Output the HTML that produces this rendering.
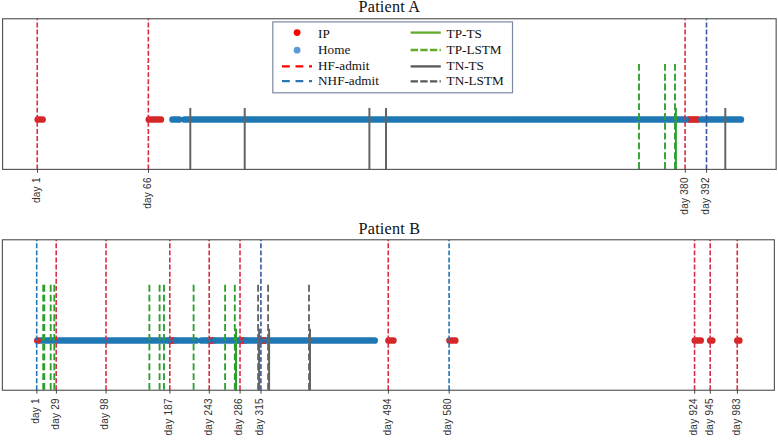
<!DOCTYPE html>
<html><head><meta charset="utf-8"><title>Patient timelines</title>
<style>
html,body{margin:0;padding:0;background:#fff;}
svg{display:block;}
.ti{font-family:"Liberation Serif",serif;font-size:16.2px;letter-spacing:0.22px;fill:#111;}
.lg{font-family:"Liberation Serif",serif;font-size:13.2px;fill:#111;}
.tk{font-family:"Liberation Sans",sans-serif;font-size:10px;letter-spacing:0.25px;fill:#303030;}
</style></head><body>
<svg width="778" height="440" viewBox="0 0 778 440">
<rect width="778" height="440" fill="#fff"/>
<text x="389.4" y="11.9" text-anchor="middle" class="ti">Patient A</text>
<line x1="37.75" x2="42.55" y1="119.5" y2="119.5" stroke="#d62728" stroke-width="6.7" stroke-linecap="round"/>
<line x1="148.85" x2="160.85" y1="119.5" y2="119.5" stroke="#d62728" stroke-width="6.7" stroke-linecap="round"/>
<rect x="687.4" y="116.15" width="12" height="6.7" fill="#d62728"/>
<line x1="172.55" x2="179.05" y1="119.5" y2="119.5" stroke="#1f77b4" stroke-width="6.7" stroke-linecap="round"/>
<line x1="184.55" x2="685.55" y1="119.5" y2="119.5" stroke="#1f77b4" stroke-width="6.7" stroke-linecap="round"/>
<line x1="701.55" x2="740.85" y1="119.5" y2="119.5" stroke="#1f77b4" stroke-width="6.7" stroke-linecap="round"/>
<line x1="37.25" x2="37.25" y1="169.4" y2="18.75" stroke="#dc2c42" stroke-width="1.6" stroke-dasharray="4.95 2.15"/>
<line x1="148.35" x2="148.35" y1="169.4" y2="18.75" stroke="#dc2c42" stroke-width="1.6" stroke-dasharray="4.95 2.15"/>
<line x1="685.1" x2="685.1" y1="169.4" y2="18.75" stroke="#dc2c42" stroke-width="1.6" stroke-dasharray="4.95 2.15"/>
<line x1="706.5" x2="706.5" y1="169.4" y2="18.75" stroke="#3a589f" stroke-width="1.6" stroke-dasharray="4.95 2.15"/>
<line x1="639" x2="639" y1="64.00" y2="169.4" stroke="#2ca02c" stroke-width="1.85" stroke-dasharray="6.85 2.96"/>
<line x1="665" x2="665" y1="64.00" y2="169.4" stroke="#2ca02c" stroke-width="1.85" stroke-dasharray="6.85 2.96"/>
<line x1="675" x2="675" y1="64.00" y2="169.4" stroke="#2ca02c" stroke-width="1.85" stroke-dasharray="6.85 2.96"/>
<line x1="675.9" x2="675.9" y1="169.4" y2="107.90" stroke="#2ca02c" stroke-width="2"/>
<line x1="190.3" x2="190.3" y1="169.4" y2="107.90" stroke="#646464" stroke-width="2"/>
<line x1="244.7" x2="244.7" y1="169.4" y2="107.90" stroke="#646464" stroke-width="2"/>
<line x1="369.4" x2="369.4" y1="169.4" y2="107.90" stroke="#646464" stroke-width="2"/>
<line x1="386" x2="386" y1="169.4" y2="107.90" stroke="#646464" stroke-width="2"/>
<line x1="725.3" x2="725.3" y1="169.4" y2="107.90" stroke="#646464" stroke-width="2"/>
<rect x="2.57" y="18.75" width="773.58" height="150.65" fill="none" stroke="#555" stroke-width="1.15"/>
<line x1="37.5" x2="37.5" y1="169.4" y2="172.80" stroke="#333" stroke-width="0.9"/>
<text transform="translate(39.70,177.30) rotate(-90)" text-anchor="end" class="tk">day 1</text>
<line x1="148.5" x2="148.5" y1="169.4" y2="172.80" stroke="#333" stroke-width="0.9"/>
<text transform="translate(150.70,177.30) rotate(-90)" text-anchor="end" class="tk">day 66</text>
<line x1="685.3" x2="685.3" y1="169.4" y2="172.80" stroke="#333" stroke-width="0.9"/>
<text transform="translate(687.50,177.30) rotate(-90)" text-anchor="end" class="tk">day 380</text>
<line x1="706.6" x2="706.6" y1="169.4" y2="172.80" stroke="#333" stroke-width="0.9"/>
<text transform="translate(708.80,177.30) rotate(-90)" text-anchor="end" class="tk">day 392</text>
<text x="389.4" y="234" text-anchor="middle" class="ti">Patient B</text>
<line x1="388.55" x2="393.35" y1="340.5" y2="340.5" stroke="#d62728" stroke-width="6.7" stroke-linecap="round"/>
<line x1="449.55" x2="455.25" y1="340.5" y2="340.5" stroke="#d62728" stroke-width="6.7" stroke-linecap="round"/>
<line x1="694.85" x2="700.65" y1="340.5" y2="340.5" stroke="#d62728" stroke-width="6.7" stroke-linecap="round"/>
<line x1="710.25" x2="712.25" y1="340.5" y2="340.5" stroke="#d62728" stroke-width="6.7" stroke-linecap="round"/>
<line x1="737.35" x2="739.30" y1="340.5" y2="340.5" stroke="#d62728" stroke-width="6.7" stroke-linecap="round"/>
<line x1="40.35" x2="196.05" y1="340.5" y2="340.5" stroke="#1f77b4" stroke-width="6.7" stroke-linecap="round"/>
<line x1="37.35" x2="37.55" y1="340.5" y2="340.5" stroke="#d62728" stroke-width="6.7" stroke-linecap="round"/>
<line x1="201.55" x2="374.65" y1="340.5" y2="340.5" stroke="#1f77b4" stroke-width="6.7" stroke-linecap="round"/>
<rect x="169.8" y="337.15" width="4.4" height="6.7" fill="#d62728"/>
<circle cx="168.6" cy="340.5" r="3.0" fill="#1f77b4"/><circle cx="175.4" cy="340.5" r="3.0" fill="#1f77b4"/>
<rect x="209.3" y="337.15" width="4.4" height="6.7" fill="#d62728"/>
<circle cx="208.1" cy="340.5" r="3.0" fill="#1f77b4"/><circle cx="214.9" cy="340.5" r="3.0" fill="#1f77b4"/>
<rect x="240.0" y="337.15" width="4.4" height="6.7" fill="#d62728"/>
<circle cx="238.79999999999998" cy="340.5" r="3.0" fill="#1f77b4"/><circle cx="245.6" cy="340.5" r="3.0" fill="#1f77b4"/>
<rect x="261.6" y="337.15" width="4.4" height="6.7" fill="#d62728"/>
<circle cx="260.40000000000003" cy="340.5" r="3.0" fill="#1f77b4"/><circle cx="267.2" cy="340.5" r="3.0" fill="#1f77b4"/>
<line x1="56.2" x2="56.2" y1="390.25" y2="239.77" stroke="#dc2c42" stroke-width="1.6" stroke-dasharray="4.95 2.15"/>
<line x1="106.0" x2="106.0" y1="390.25" y2="239.77" stroke="#dc2c42" stroke-width="1.6" stroke-dasharray="4.95 2.15"/>
<line x1="169.8" x2="169.8" y1="390.25" y2="239.77" stroke="#dc2c42" stroke-width="1.6" stroke-dasharray="4.95 2.15"/>
<line x1="209.2" x2="209.2" y1="390.25" y2="239.77" stroke="#dc2c42" stroke-width="1.6" stroke-dasharray="4.95 2.15"/>
<line x1="240.0" x2="240.0" y1="390.25" y2="239.77" stroke="#dc2c42" stroke-width="1.6" stroke-dasharray="4.95 2.15"/>
<line x1="388.25" x2="388.25" y1="390.25" y2="239.77" stroke="#dc2c42" stroke-width="1.6" stroke-dasharray="4.95 2.15"/>
<line x1="694.55" x2="694.55" y1="390.25" y2="239.77" stroke="#dc2c42" stroke-width="1.6" stroke-dasharray="4.95 2.15"/>
<line x1="710.2" x2="710.2" y1="390.25" y2="239.77" stroke="#dc2c42" stroke-width="1.6" stroke-dasharray="4.95 2.15"/>
<line x1="737.25" x2="737.25" y1="390.25" y2="239.77" stroke="#dc2c42" stroke-width="1.6" stroke-dasharray="4.95 2.15"/>
<line x1="36.7" x2="36.7" y1="390.25" y2="239.77" stroke="#1f77b4" stroke-width="1.6" stroke-dasharray="4.95 2.15"/>
<line x1="449.1" x2="449.1" y1="390.25" y2="239.77" stroke="#1f77b4" stroke-width="1.6" stroke-dasharray="4.95 2.15"/>
<line x1="260.9" x2="260.9" y1="390.25" y2="239.77" stroke="#3a589f" stroke-width="1.6" stroke-dasharray="4.95 2.15"/>
<line x1="43.2" x2="43.2" y1="284.85" y2="390.25" stroke="#2ca02c" stroke-width="1.85" stroke-dasharray="6.85 2.96"/>
<line x1="44.3" x2="44.3" y1="284.85" y2="390.25" stroke="#2ca02c" stroke-width="1.85" stroke-dasharray="6.85 2.96"/>
<line x1="50.7" x2="50.7" y1="284.85" y2="390.25" stroke="#2ca02c" stroke-width="1.85" stroke-dasharray="6.85 2.96"/>
<line x1="54.3" x2="54.3" y1="284.85" y2="390.25" stroke="#2ca02c" stroke-width="1.85" stroke-dasharray="6.85 2.96"/>
<line x1="149.4" x2="149.4" y1="284.85" y2="390.25" stroke="#2ca02c" stroke-width="1.85" stroke-dasharray="6.85 2.96"/>
<line x1="159.6" x2="159.6" y1="284.85" y2="390.25" stroke="#2ca02c" stroke-width="1.85" stroke-dasharray="6.85 2.96"/>
<line x1="164.0" x2="164.0" y1="284.85" y2="390.25" stroke="#2ca02c" stroke-width="1.85" stroke-dasharray="6.85 2.96"/>
<line x1="193.6" x2="193.6" y1="284.85" y2="390.25" stroke="#2ca02c" stroke-width="1.85" stroke-dasharray="6.85 2.96"/>
<line x1="225.1" x2="225.1" y1="284.85" y2="390.25" stroke="#2ca02c" stroke-width="1.85" stroke-dasharray="6.85 2.96"/>
<line x1="234.8" x2="234.8" y1="284.85" y2="390.25" stroke="#2ca02c" stroke-width="1.85" stroke-dasharray="6.85 2.96"/>
<line x1="236.0" x2="236.0" y1="390.25" y2="328.75" stroke="#2ca02c" stroke-width="2"/>
<line x1="258.1" x2="258.1" y1="284.85" y2="390.25" stroke="#646464" stroke-width="1.85" stroke-dasharray="6.85 2.96"/>
<line x1="268.1" x2="268.1" y1="284.85" y2="390.25" stroke="#646464" stroke-width="1.85" stroke-dasharray="6.85 2.96"/>
<line x1="309.0" x2="309.0" y1="284.85" y2="390.25" stroke="#646464" stroke-width="1.85" stroke-dasharray="6.85 2.96"/>
<line x1="259.1" x2="259.1" y1="390.25" y2="328.75" stroke="#646464" stroke-width="2"/>
<line x1="269.1" x2="269.1" y1="390.25" y2="328.75" stroke="#646464" stroke-width="2"/>
<line x1="310.0" x2="310.0" y1="390.25" y2="328.75" stroke="#646464" stroke-width="2"/>
<rect x="2.4" y="239.77" width="772.00" height="150.48" fill="none" stroke="#555" stroke-width="1.15"/>
<line x1="36.9" x2="36.9" y1="390.25" y2="393.65" stroke="#333" stroke-width="0.9"/>
<text transform="translate(39.10,398.15) rotate(-90)" text-anchor="end" class="tk">day 1</text>
<line x1="56.4" x2="56.4" y1="390.25" y2="393.65" stroke="#333" stroke-width="0.9"/>
<text transform="translate(58.60,398.15) rotate(-90)" text-anchor="end" class="tk">day 29</text>
<line x1="106.1" x2="106.1" y1="390.25" y2="393.65" stroke="#333" stroke-width="0.9"/>
<text transform="translate(108.30,398.15) rotate(-90)" text-anchor="end" class="tk">day 98</text>
<line x1="169.9" x2="169.9" y1="390.25" y2="393.65" stroke="#333" stroke-width="0.9"/>
<text transform="translate(172.10,398.15) rotate(-90)" text-anchor="end" class="tk">day 187</text>
<line x1="209.3" x2="209.3" y1="390.25" y2="393.65" stroke="#333" stroke-width="0.9"/>
<text transform="translate(211.50,398.15) rotate(-90)" text-anchor="end" class="tk">day 243</text>
<line x1="240.1" x2="240.1" y1="390.25" y2="393.65" stroke="#333" stroke-width="0.9"/>
<text transform="translate(242.30,398.15) rotate(-90)" text-anchor="end" class="tk">day 286</text>
<line x1="261.0" x2="261.0" y1="390.25" y2="393.65" stroke="#333" stroke-width="0.9"/>
<text transform="translate(263.20,398.15) rotate(-90)" text-anchor="end" class="tk">day 315</text>
<line x1="388.4" x2="388.4" y1="390.25" y2="393.65" stroke="#333" stroke-width="0.9"/>
<text transform="translate(390.60,398.15) rotate(-90)" text-anchor="end" class="tk">day 494</text>
<line x1="449.2" x2="449.2" y1="390.25" y2="393.65" stroke="#333" stroke-width="0.9"/>
<text transform="translate(451.40,398.15) rotate(-90)" text-anchor="end" class="tk">day 580</text>
<line x1="694.7" x2="694.7" y1="390.25" y2="393.65" stroke="#333" stroke-width="0.9"/>
<text transform="translate(696.90,398.15) rotate(-90)" text-anchor="end" class="tk">day 924</text>
<line x1="710.3" x2="710.3" y1="390.25" y2="393.65" stroke="#333" stroke-width="0.9"/>
<text transform="translate(712.50,398.15) rotate(-90)" text-anchor="end" class="tk">day 945</text>
<line x1="737.4" x2="737.4" y1="390.25" y2="393.65" stroke="#333" stroke-width="0.9"/>
<text transform="translate(739.60,398.15) rotate(-90)" text-anchor="end" class="tk">day 983</text>
<rect x="272.8" y="21.9" width="239.7" height="70.9" fill="#fff" stroke="#7d87a0" stroke-width="1.2"/>
<circle cx="297.1" cy="32.6" r="3.4" fill="#ff0000"/>
<circle cx="297.1" cy="50.2" r="3.4" fill="#5b9bd5"/>
<line x1="282" x2="312" y1="66.3" y2="66.3" stroke="#ff0000" stroke-width="2.3" stroke-dasharray="7.8 5.7"/>
<line x1="282" x2="312" y1="81.1" y2="81.1" stroke="#2e75b6" stroke-width="2.3" stroke-dasharray="7.8 5.7"/>
<line x1="410.6" x2="440.8" y1="32.6" y2="32.6" stroke="#64aa2d" stroke-width="2.3"/>
<line x1="410.6" x2="440.8" y1="50.0" y2="50.0" stroke="#64aa2d" stroke-width="2.3" stroke-dasharray="7.4 2.25"/>
<line x1="410.6" x2="440.8" y1="66.4" y2="66.4" stroke="#595959" stroke-width="2.3"/>
<line x1="410.6" x2="440.8" y1="81.3" y2="81.3" stroke="#595959" stroke-width="2.3" stroke-dasharray="7.4 2.25"/>
<text x="318.1" y="37.5" class="lg">IP</text>
<text x="318.1" y="53.8" class="lg">Home</text>
<text x="318.1" y="69.7" class="lg">HF-admit</text>
<text x="318.1" y="85.2" class="lg">NHF-admit</text>
<text x="446.6" y="37.5" class="lg">TP-TS</text>
<text x="446.6" y="53.8" class="lg">TP-LSTM</text>
<text x="446.6" y="69.7" class="lg">TN-TS</text>
<text x="446.6" y="85.2" class="lg">TN-LSTM</text>
</svg>
</body></html>
